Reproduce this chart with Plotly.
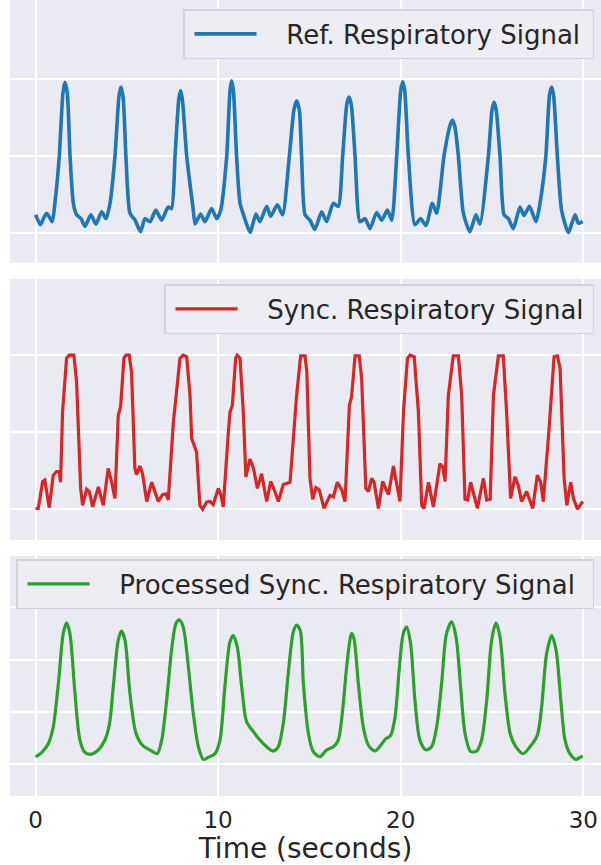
import plotly.graph_objects as go

# ---------------- data ----------------
ref_t = [0, 0.27, 0.45, 0.61, 0.78, 0.92, 1.06,
         1.30, 1.50, 1.61, 1.74, 1.89, 2.07,
         2.25, 2.49, 2.71, 3.03, 3.31, 3.62, 3.86, 4.08,
         4.35, 4.57, 4.68, 4.80, 4.95, 5.17,
         5.45, 5.75, 5.99, 6.27, 6.59, 6.90, 7.27, 7.45,
         7.64, 7.85, 7.95, 8.05, 8.28, 8.64,
         8.74, 9.04, 9.28, 9.64, 9.92, 10.14,
         10.47, 10.65, 10.74, 10.84, 11.01, 11.20,
         11.42, 11.75, 12.07, 12.29, 12.66, 12.88, 13.24, 13.53,
         13.90, 14.15, 14.30, 14.45, 14.57, 14.76,
         15.03, 15.30, 15.67, 15.94, 16.31, 16.58,
         16.82, 17.05, 17.17, 17.30, 17.50, 17.77,
         18.05, 18.32, 18.68, 18.96, 19.27, 19.51,
         19.78, 20.00, 20.11, 20.22, 20.42, 20.78,
         21.09, 21.39, 21.73, 21.97,
         22.37, 22.70, 22.83, 22.97, 23.16, 23.43,
         23.79, 24.12, 24.34,
         24.80, 25.00, 25.11, 25.23, 25.44, 25.66,
         25.90, 26.17, 26.53, 26.75, 27.05, 27.41, 27.63,
         27.95, 28.15, 28.27, 28.38, 28.58, 28.81,
         29.18, 29.55, 29.73, 29.97]
ref_v = [0.24, 0.11, 0.20, 0.26, 0.20, 0.15, 0.39,
         1.00, 1.82, 1.96, 1.82, 1.00, 0.39,
         0.24, 0.19, 0.09, 0.24, 0.12, 0.28, 0.19, 0.39,
         1.00, 1.78, 1.90, 1.76, 1.00, 0.26,
         0.17, 0.02, 0.19, 0.15, 0.30, 0.17, 0.34, 0.32,
         1.00, 1.75, 1.85, 1.72, 1.00, 0.30,
         0.12, 0.25, 0.15, 0.32, 0.19, 0.30,
         1.00, 1.85, 1.98, 1.85, 1.00, 0.39,
         0.22, 0.01, 0.25, 0.15, 0.35, 0.22, 0.37, 0.24,
         1.00, 1.60, 1.72, 1.60, 1.00, 0.24,
         0.17, 0.05, 0.28, 0.15, 0.39, 0.35,
         1.00, 1.68, 1.77, 1.66, 1.00, 0.15,
         0.19, 0.06, 0.27, 0.17, 0.30, 0.17,
         1.00, 1.85, 1.97, 1.85, 1.00, 0.11,
         0.19, 0.10, 0.39, 0.26,
         1.00, 1.40, 1.47, 1.38, 1.00, 0.26,
         0.02, 0.24, 0.12,
         1.00, 1.60, 1.70, 1.60, 1.00, 0.24,
         0.19, 0.06, 0.34, 0.23, 0.35, 0.15, 0.39,
         1.00, 1.80, 1.90, 1.78, 1.00, 0.30,
         0.01, 0.24, 0.13, 0.15]

sync_t = [0, 0.15, 0.39, 0.51, 0.75, 0.97, 1.15, 1.30, 1.37, 1.48, 1.70, 1.85, 2.10, 2.25,
          2.47, 2.58, 2.80, 2.94, 3.13, 3.44, 3.71, 3.98, 4.17, 4.35, 4.53, 4.66, 4.84, 4.95,
          5.13, 5.26, 5.44, 5.53, 5.72, 5.86, 6.09, 6.36, 6.45, 6.72, 6.96, 7.14, 7.27, 7.55,
          7.91, 8.09, 8.28, 8.46, 8.55, 8.82, 9.00, 9.15, 9.37, 9.56, 9.73, 10.01, 10.16,
          10.28, 10.56, 10.65, 10.78, 10.96, 11.05, 11.20, 11.38, 11.52, 11.74, 11.93, 12.15,
          12.38, 12.66, 12.88, 13.11, 13.30, 13.57, 13.94, 14.30, 14.52, 14.76, 14.86, 15.03,
          15.18, 15.36, 15.54, 15.80, 16.13, 16.31, 16.53, 16.77, 16.95, 17.19, 17.31, 17.50,
          17.73, 17.86, 18.09, 18.23, 18.41, 18.54, 18.78, 19.01, 19.33, 19.60, 19.78, 19.96,
          20.15, 20.37, 20.51, 20.74, 20.97, 21.15, 21.28, 21.52, 21.79, 22.15, 22.30, 22.43,
          22.61, 22.88, 23.16, 23.34, 23.52, 23.67, 23.83, 23.98, 24.20, 24.53, 24.71, 24.90,
          25.08, 25.35, 25.62, 25.80, 26.02, 26.26, 26.44, 26.62, 26.90, 27.23, 27.48, 27.67,
          27.81, 28.14, 28.40, 28.58, 28.73, 28.95, 29.10, 29.31, 29.46, 29.68, 29.97]
sync_v = [0.01, 0.01, 0.36, 0.38, 0.02, 0.44, 0.49, 0.49, 0.35, 1.26, 1.96, 2.00, 2.00, 1.65,
          0.27, 0.05, 0.26, 0.23, 0.03, 0.29, 0.05, 0.53, 0.35, 0.14, 1.22, 1.33, 1.96, 2.00,
          2.00, 1.78, 0.53, 0.45, 0.56, 0.46, 0.10, 0.35, 0.29, 0.10, 0.19, 0.20, 0.12, 1.13,
          1.96, 2.00, 1.98, 1.48, 0.92, 0.74, 0.05, 0.00, 0.09, 0.10, 0.06, 0.27, 0.18,
          0.03, 1.00, 1.26, 1.35, 1.96, 2.00, 1.96, 1.26, 0.42, 0.65, 0.54, 0.27,
          0.46, 0.10, 0.36, 0.23, 0.10, 0.32, 0.35, 1.48, 1.99, 1.99, 1.78, 0.40,
          0.13, 0.28, 0.25, 0.01, 0.18, 0.16, 0.35, 0.25, 0.10, 1.35, 1.46, 1.99,
          1.99, 1.70, 0.27, 0.23, 0.40, 0.35, 0.01, 0.36, 0.19, 0.56, 0.31, 0.10,
          1.26, 1.96, 2.00, 1.98, 1.26, 0.05, 0.01, 0.35, 0.03, 0.59, 0.55, 0.36,
          1.48, 1.99, 1.99, 1.48, 0.13, 0.12, 0.35, 0.22, 0.01, 0.40, 0.12, 0.13,
          1.48, 1.99, 1.99, 1.26, 0.14, 0.42, 0.31, 0.10, 0.23, 0.01, 0.44, 0.35,
          0.10, 1.09, 1.98, 1.99, 1.83, 0.40, 0.05, 0.35, 0.14, 0.00, 0.10]

proc_t = [0, 0.33, 0.70, 0.97, 1.25, 1.52, 1.70, 1.88, 2.16, 2.43, 2.71, 3.07, 3.44, 3.80,
          4.04, 4.26, 4.53, 4.71, 4.90, 5.17, 5.50, 5.86, 6.36, 6.67, 6.91, 7.18, 7.45, 7.69,
          7.87, 8.09, 8.37, 8.64, 8.92, 9.19, 9.46, 9.83, 10.10, 10.37, 10.65, 10.83, 11.05,
          11.29, 11.56, 11.93, 12.29, 12.66, 13.02, 13.29, 13.57, 13.84, 14.12, 14.30, 14.50,
          14.67, 14.94, 15.21, 15.58, 15.94, 16.31, 16.58, 16.82, 17.04, 17.31, 17.44, 17.68,
          17.95, 18.23, 18.59, 18.86, 19.14, 19.45, 19.69, 19.93, 20.14, 20.33, 20.54, 20.78,
          21.05, 21.38, 21.69, 21.97, 22.24, 22.51, 22.79, 23.03, 23.28, 23.52, 23.83, 24.16,
          24.43, 24.71, 24.98, 25.22, 25.44, 25.71, 25.99, 26.26, 26.71, 27.08, 27.48, 27.72,
          27.99, 28.27, 28.51, 28.77, 29.00, 29.27, 29.60, 29.82, 29.97]
proc_v = [0.14, 0.22, 0.39, 0.71, 1.54, 2.50, 2.70, 2.50, 1.35, 0.46, 0.22, 0.19, 0.27, 0.46,
          0.75, 1.48, 2.37, 2.55, 2.37, 1.35, 0.59, 0.36, 0.25, 0.20, 0.46, 1.22, 2.18, 2.69,
          2.76, 2.62, 1.86, 0.97, 0.33, 0.09, 0.13, 0.20, 0.46, 1.48, 2.34, 2.46, 2.24,
          1.48, 0.81, 0.62, 0.46, 0.33, 0.25, 0.33, 0.78, 1.73, 2.53, 2.66, 2.55,
          1.54, 0.59, 0.24, 0.14, 0.27, 0.33, 0.46, 1.03, 1.86, 2.50, 2.40, 1.54,
          0.71, 0.36, 0.25, 0.34, 0.47, 0.55, 0.90, 1.86, 2.50, 2.62, 2.31, 1.22,
          0.46, 0.27, 0.33, 0.71, 1.54, 2.50, 2.72, 2.43, 1.48, 0.59, 0.24, 0.25,
          0.46, 1.22, 2.37, 2.70, 2.43, 1.35, 0.59, 0.36, 0.20, 0.33, 0.55, 1.10,
          2.11, 2.46, 2.18, 1.22, 0.46, 0.20, 0.09, 0.13, 0.15]

x_ticks = [0, 10, 20, 30]
x_tick_labels = ["0", "10", "20", "30"]
names = ["Ref. Respiratory Signal", "Sync. Respiratory Signal",
         "Processed Sync. Respiratory Signal"]
x_title = "Time (seconds)"

# ---------------- figure ----------------
FONT = "DejaVu Sans"
TXT = "#262626"
BG = "#EAEAF2"
GAP = "\u00a0\u00a0\u00a0"  # visual gap between legend line and label

fig = go.Figure()
fig.add_trace(go.Scatter(x=ref_t, y=ref_v, mode="lines", name=GAP + names[0],
                         line=dict(color="#1f77b4", width=3.6, shape="spline", smoothing=0.6),
                         xaxis="x", yaxis="y", legend="legend"))
fig.add_trace(go.Scatter(x=sync_t, y=sync_v, mode="lines", name=GAP + names[1],
                         line=dict(color="#d62728", width=3.2),
                         xaxis="x2", yaxis="y2", legend="legend2"))
fig.add_trace(go.Scatter(x=proc_t, y=proc_v, mode="lines", name=GAP + names[2],
                         line=dict(color="#2ca02c", width=3.2, shape="spline", smoothing=0.8),
                         xaxis="x3", yaxis="y3", legend="legend3"))

xdom = [0.0166, 1.0]
xrange_ = [-1.4, 30.97]
ax_common = dict(showgrid=True, gridcolor="white", gridwidth=2, zeroline=False,
                 showline=False, ticks="")

def xax(anchor, show):
    return dict(ax_common, domain=xdom, range=xrange_, anchor=anchor,
                tickvals=x_ticks, ticktext=x_tick_labels, showticklabels=show)

legend_common = dict(orientation="h", bgcolor="#EDEDF3", bordercolor="#D3D3DA",
                     borderwidth=1.5, font=dict(family=FONT, size=26, color=TXT),
                     itemwidth=62, indentation=5, xanchor="right", yanchor="top",
                     entrywidthmode="pixels")

fig.update_layout(
    width=601, height=865, autosize=False,
    margin=dict(l=0, r=0, t=0, b=0),
    paper_bgcolor="white", plot_bgcolor=BG,
    font=dict(family=FONT, color=TXT),
    xaxis=xax("y", False),
    xaxis2=xax("y2", False),
    xaxis3=dict(xax("y3", True), tickfont=dict(family=FONT, size=23, color=TXT),
                ticklabelstandoff=8,
                title=dict(text=x_title, font=dict(family=FONT, size=28, color=TXT),
                           standoff=3)),
    yaxis=dict(ax_common, domain=[0.696, 1.0], range=[-0.386, 3.03],
               tickvals=[0, 1, 2], showticklabels=False, anchor="x"),
    yaxis2=dict(ax_common, domain=[0.3757, 0.6775], range=[-0.40, 2.99],
                tickvals=[0, 1, 2], showticklabels=False, anchor="x2"),
    yaxis3=dict(ax_common, domain=[0.0798, 0.3572], range=[-0.61, 3.98],
                tickvals=[0, 1, 2, 3], showticklabels=False, anchor="x3"),
    legend=dict(legend_common, x=594 / 601, y=1 - 9 / 865, entrywidth=326),
    legend2=dict(legend_common, x=594 / 601, y=1 - 284 / 865, entrywidth=345),
    legend3=dict(legend_common, x=594 / 601, y=1 - 559 / 865, entrywidth=493),
    showlegend=True,
)

fig.write_html("out.html", config={"displayModeBar": False},
               post_script="document.body.style.margin='0';")
